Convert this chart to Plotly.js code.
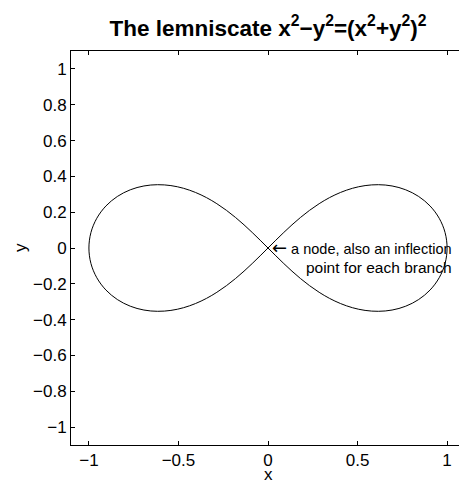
<!DOCTYPE html>
<html>
<head>
<meta charset="utf-8">
<script src="https://cdn.plot.ly/plotly-3.0.1.min.js"></script>
<style>
html,body{margin:0;padding:0;overflow:hidden;background:#fff;}
#chart{width:471px;height:483px;}
</style>
</head>
<body>
<div id="chart"></div>
<script>
// Lemniscate points (right loop upper, left loop lower, left loop upper, right loop lower)
var curveX = [
  1, 0.9887, 0.9560, 0.9053, 0.8413, 0.7690, 0.6928, 0.6164, 0.5421, 0.4714, 0.4051, 0.3433, 0.2857, 0.2320, 0.1816, 0.1339, 0.0882, 0.0437, 0,
  -0.0437, -0.0882, -0.1339, -0.1816, -0.2320, -0.2857, -0.3433, -0.4051, -0.4714, -0.5421, -0.6164, -0.6928, -0.7690, -0.8413, -0.9053, -0.9560, -0.9887, -1,
  -0.9887, -0.9560, -0.9053, -0.8413, -0.7690, -0.6928, -0.6164, -0.5421, -0.4714, -0.4051, -0.3433, -0.2857, -0.2320, -0.1816, -0.1339, -0.0882, -0.0437, 0,
  0.0437, 0.0882, 0.1339, 0.1816, 0.2320, 0.2857, 0.3433, 0.4051, 0.4714, 0.5421, 0.6164, 0.6928, 0.7690, 0.8413, 0.9053, 0.9560, 0.9887, 1
];
var curveY = [
  0, 0.0862, 0.1660, 0.2343, 0.2877, 0.3250, 0.3464, 0.3535, 0.3484, 0.3333, 0.3103, 0.2812, 0.2474, 0.2103, 0.1707, 0.1293, 0.0868, 0.0436, 0,
  -0.0436, -0.0868, -0.1293, -0.1707, -0.2103, -0.2474, -0.2812, -0.3103, -0.3333, -0.3484, -0.3535, -0.3464, -0.3250, -0.2877, -0.2343, -0.1660, -0.0862, 0,
  0.0862, 0.1660, 0.2343, 0.2877, 0.3250, 0.3464, 0.3535, 0.3484, 0.3333, 0.3103, 0.2812, 0.2474, 0.2103, 0.1707, 0.1293, 0.0868, 0.0436, 0,
  -0.0436, -0.0868, -0.1293, -0.1707, -0.2103, -0.2474, -0.2812, -0.3103, -0.3333, -0.3484, -0.3535, -0.3464, -0.3250, -0.2877, -0.2343, -0.1660, -0.0862, 0
];
var xTickVals = [-1, -0.5, 0, 0.5, 1];
var xTickText = ["\u22121", "\u22120.5", "0", "0.5", "1"];
var yTickVals = [-1, -0.8, -0.6, -0.4, -0.2, 0, 0.2, 0.4, 0.6, 0.8, 1];
var yTickText = ["\u22121", "\u22120.8", "\u22120.6", "\u22120.4", "\u22120.2", "0", "0.2", "0.4", "0.6", "0.8", "1"];
var titleText = "The lemniscate x<sup>2</sup>\u2212y<sup>2</sup>=(x<sup>2</sup>+y<sup>2</sup>)<sup>2</sup>";
var xLabel = "x";
var yLabel = "y";
var noteText = "<span style='font-family:DejaVu Sans;font-size:18px'>\u2190</span> a node, also an inflection<br>" +
               "<span style='font-size:15.5px'>point for each branch</span>";

var FONT = "'Liberation Sans', Arial, Helvetica, sans-serif";

var trace = {
  x: curveX, y: curveY, type: 'scatter', mode: 'lines',
  line: {color: '#000', width: 1, shape: 'spline', smoothing: 1},
  hoverinfo: 'skip'
};

var axisCommon = {
  range: [-1.1, 1.1],
  ticks: 'inside', ticklen: 4, tickwidth: 1, tickcolor: '#000',
  showline: true, linecolor: '#000', linewidth: 1, mirror: 'ticks',
  showgrid: false, zeroline: false,
  tickfont: {family: FONT, size: 17, color: '#000'}
};

var layout = {
  width: 471, height: 483,
  margin: {l: 71, r: 6, t: 51, b: 38, pad: 0},
  paper_bgcolor: '#fff', plot_bgcolor: '#fff',
  showlegend: false,
  font: {family: FONT, color: '#000'},
  title: {
    text: titleText,
    font: {family: FONT, size: 22.5, color: '#000', weight: 'bold'},
    x: 0.5, xref: 'paper', xanchor: 'center',
    y: 1 - 28/483, yref: 'container', yanchor: 'middle'
  },
  xaxis: Object.assign({}, axisCommon, {
    tickvals: xTickVals, ticktext: xTickText
  }),
  yaxis: Object.assign({}, axisCommon, {
    tickvals: yTickVals, ticktext: yTickText
  }),
  annotations: []
};

// pixel -> paper helpers for placing the free text labels
var plotW = layout.width - layout.margin.l - layout.margin.r;
var plotH = layout.height - layout.margin.t - layout.margin.b;
function py(p) { return (layout.height - layout.margin.b - p) / plotH; }
function px(p) { return (p - layout.margin.l) / plotW; }

layout.annotations = [
  {x: 1.032, y: -0.05, xref: 'x', yref: 'y', xanchor: 'right', yanchor: 'middle', align: 'right',
   borderpad: 0, text: noteText, showarrow: false, font: {family: FONT, size: 14.5, color: '#000'}},
  {x: 0.5, y: py(474), xref: 'paper', yref: 'paper', xanchor: 'center', yanchor: 'middle',
   borderpad: 0, text: xLabel, showarrow: false, font: {family: FONT, size: 17, color: '#000'}},
  {x: px(20), y: py(248), xref: 'paper', yref: 'paper', xanchor: 'center', yanchor: 'middle',
   borderpad: 0, text: yLabel, showarrow: false, textangle: -90, font: {family: FONT, size: 17, color: '#000'}}
];

Plotly.newPlot('chart', [trace], layout, {staticPlot: true, displayModeBar: false});
</script>
</body>
</html>
